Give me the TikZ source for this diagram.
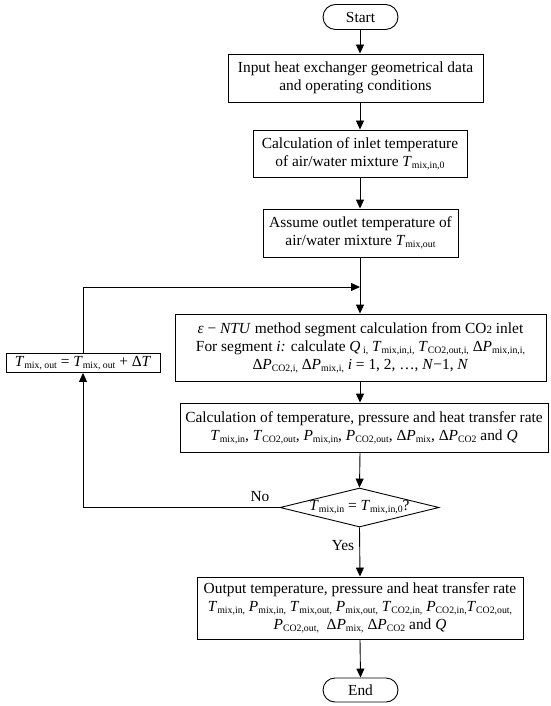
\documentclass[tikz,border=0pt]{standalone}
\usepackage{fontspec}
\setmainfont{Liberation Serif}
\usetikzlibrary{arrows.meta,shapes.geometric,shapes.misc}
\newcommand\sbs[1]{\raisebox{-0.3ex}{\fontsize{9.8}{10}\selectfont #1}}
\newcommand\vT{\textit{T}}
\newcommand\vP{\textit{P}}
\newcommand\vQ{\textit{Q}}
\newcommand\dP{Δ\textit{P}}
\begin{document}
\begin{tikzpicture}[x=1pt,y=-1pt,
  every node/.style={font=\fontsize{15.4}{18}\selectfont},
  box/.style={draw,line width=0.9pt,rectangle,align=center,inner sep=0pt},
  term/.style={draw,line width=0.9pt,rounded rectangle,inner sep=0pt,minimum width=75pt,minimum height=25pt},
  ln/.style={line width=0.9pt},
  arr/.style={line width=0.9pt,-{Triangle[length=9pt,width=8pt]}}]
\useasboundingbox (0,0) rectangle (550,706);
\node[term] (start) at (360.5,17) {Start};
\node[box,minimum width=255pt,minimum height=48pt] (input) at (355.5,78)
  {Input heat exchanger geometrical data\\and operating conditions};
\node[box,minimum width=214pt,minimum height=47pt] (inlet) at (360,153.5)
  {Calculation of inlet temperature\\of air/water mixture \vT\sbs{mix,in,0}};
\node[box,minimum width=195pt,minimum height=48pt] (assume) at (360.5,233)
  {Assume outlet temperature of\\air/water mixture \vT\sbs{mix,out}};
\node[box,minimum width=371pt,minimum height=67pt] (eps) at (360.5,347.5)
  {\textit{ε} − \textit{NTU} method segment calculation from CO{\fontsize{11}{12}\selectfont 2} inlet\\
   For segment \textit{i:} calculate \vQ\sbs{ i,} \vT\sbs{mix,in,i,} \vT\sbs{CO2,out,i,} \dP\sbs{mix,in,i,}\\
   \dP\sbs{CO2,i,} \dP\sbs{mix,i,} \textit{i} = 1, 2, …, \textit{N}−1, \textit{N}};
\node[box,minimum width=154pt,minimum height=19pt] (lb) at (83,363)
  {\vT\sbs{mix, out} = \vT\sbs{mix, out} + Δ\textit{T}};
\node[box,minimum width=368pt,minimum height=49pt] (calc) at (364,427.5)
  {Calculation of temperature, pressure and heat transfer rate\\
   \vT\sbs{mix,in}, \vT\sbs{CO2,out}, \vP\sbs{mix,in}, \vP\sbs{CO2,out}, \dP\sbs{mix}, \dP\sbs{CO2} and \vQ};
\node[draw,line width=0.9pt,diamond,minimum width=159pt,minimum height=39pt,inner sep=0pt] (dec) at (359.5,507.5) {};
\node (dect) at (dec.center) {\vT\sbs{mix,in} = \vT\sbs{mix,in,0}?};
\node[box,minimum width=326pt,minimum height=62pt] (out) at (360,608)
  {Output temperature, pressure and heat transfer rate\\
   \vT\sbs{mix,in,} \vP\sbs{mix,in,} \vT\sbs{mix,out,} \vP\sbs{mix,out,} \vT\sbs{CO2,in,} \vP\sbs{CO2,in,}\vT\sbs{CO2,out,}\\
   \vP\sbs{CO2,out,} \ \dP\sbs{mix,} \dP\sbs{CO2} and \vQ};
\node[term,minimum height=24pt] (end) at (360.5,690) {End};
\coordinate (j) at (360,287);
\draw[arr] (start.south -| 360,0) -- (input.north -| 360,0);
\draw[arr] (input.south -| 360,0) -- (inlet.north -| 360,0);
\draw[arr] (inlet.south -| 360,0) -- (assume.north -| 360,0);
\draw[ln] (assume.south -| 360,0) -- (j);
\draw[arr] (j) -- (eps.north -| 360,0);
\draw[arr] (lb.north) |- (j);
\draw[arr] (eps.south -| 360,0) -- (calc.north -| 360,0);
\draw[arr] (calc.south -| 360,0) -- (dec.north);
\draw[arr] (dec.west) -| (lb.south);
\draw[arr] (dec.south) -- (out.north -| 360,0);
\draw[arr] (out.south -| 360,0) -- (end.north);
\node (no) at (260,497) {No};
\node (yes) at (343,546) {Yes};
\end{tikzpicture}
\end{document}
